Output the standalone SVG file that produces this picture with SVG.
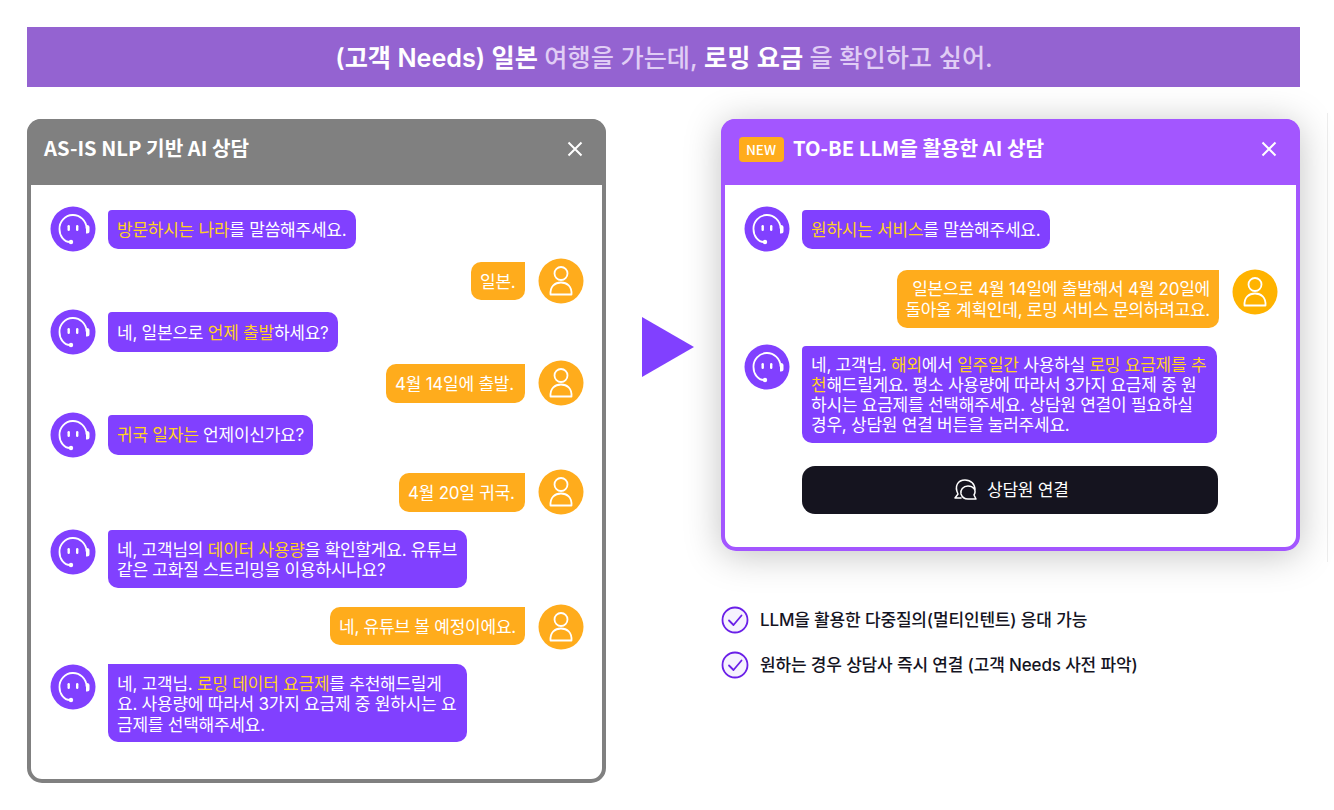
<svg xmlns="http://www.w3.org/2000/svg" width="1334" height="810" viewBox="0 0 1334 810">
<style>
text{font-family:"Inter","Noto Sans CJK KR",sans-serif;font-size:17px;fill:#fff;letter-spacing:-0.24px}
.y{fill:#FFD21F}
.bot{fill:#8140FF}
.usr{fill:#FFAC1C}
.dim{fill:#E0CDF5;font-weight:500}
.title{font-family:"Noto Sans CJK KR",sans-serif;font-size:20.200px;font-weight:700;letter-spacing:0}
.ban{font-size:25.200px;font-weight:600;letter-spacing:0}
.chk{fill:#15141F;font-size:17px;font-weight:500;letter-spacing:-0.16px}
.ic{fill:none;stroke:#fff;stroke-width:1.8;stroke-linecap:round;stroke-linejoin:round}
</style>
<defs>
<filter id="sh" x="-15%" y="-25%" width="130%" height="150%"><feDropShadow dx="0" dy="4" stdDeviation="18" flood-color="#000" flood-opacity="0.24"/></filter>
<symbol id="boticon" overflow="visible">
<circle cx="0" cy="0" r="22.500" fill="#8140FF"/>
<path class="ic" d="M-3 13C-9 13-13.500 7-13.500 0A13.500 13.500 0 0 1 13.500 -1"/>
<path d="M13-4h1a2.500 2.500 0 0 1 2.500 2.500v3.500a2.500 2.500 0 0 1-2.500 2.500h-1z" fill="#fff"/>
<circle cx="-2" cy="13" r="2.200" fill="#fff"/>
<rect x="-5.500" y="-4" width="2.400" height="6" rx="1.200" fill="#fff"/>
<rect x="3" y="-4" width="2.400" height="6" rx="1.200" fill="#fff"/>
</symbol>
<symbol id="usericon" overflow="visible">
<circle cx="0" cy="0" r="22.500" fill="currentColor"/>
<circle cx="0" cy="-7.500" r="6.500" class="ic"/>
<path class="ic" d="M-10.500 13.500C-11 5-6 1.500 0 1.500S11 5 10.500 13.500Z"/>
</symbol>
</defs>

<g id="banner">
<rect x="27" y="27" width="1273" height="60" fill="#9463D1"/>
<text x="664" y="66.500" text-anchor="middle" class="ban">(고객 Needs) 일본 <tspan class="dim">여행을 가는데,</tspan> 로밍 요금 <tspan class="dim">을 확인하고 싶어.</tspan></text>
</g>

<g id="asis-panel">
<rect x="29" y="121" width="575" height="660" rx="13" fill="#fff" stroke="#808080" stroke-width="4"/>
<path d="M27 185V133a14 14 0 0 1 14-14H592a14 14 0 0 1 14 14V185Z" fill="#808080"/>
<text x="44" y="156" class="title">AS-IS NLP 기반 AI 상담</text>
<path d="M568.500 142.500L581.500 155.500M581.500 142.500L568.500 155.500" stroke="#fff" stroke-width="2" fill="none"/>
</g>

<g id="asis-b1"><use href="#boticon" x="73" y="229"/><path class="bot" d="M108 214a4 4 0 0 1 4-4H346a10 10 0 0 1 10 10V239a10 10 0 0 1-10 10H118a10 10 0 0 1-10-10Z"/>
<text x="117" y="236"><tspan class="y">방문하시는 나라</tspan>를 말씀해주세요.</text></g>
<g id="asis-u1"><use href="#usericon" x="561" y="281" color="#FFAC1C"/><path class="usr" d="M481 262H525V290a10 10 0 0 1-10 10H481a10 10 0 0 1-10-10V272a10 10 0 0 1 10-10Z"/><text x="480" y="288">일본.</text></g>
<g id="asis-b2"><use href="#boticon" x="73" y="332"/><path class="bot" d="M108 316a4 4 0 0 1 4-4H328a10 10 0 0 1 10 10V342a10 10 0 0 1-10 10H118a10 10 0 0 1-10-10Z"/>
<text x="117" y="339">네, 일본으로 <tspan class="y">언제 출발</tspan>하세요?</text></g>
<g id="asis-u2"><use href="#usericon" x="561" y="383" color="#FFAC1C"/><path class="usr" d="M396 364H525V393a10 10 0 0 1-10 10H396a10 10 0 0 1-10-10V374a10 10 0 0 1 10-10Z"/><text x="395" y="390">4월 14일에 출발.</text></g>
<g id="asis-b3"><use href="#boticon" x="73" y="435"/><path class="bot" d="M108 419a4 4 0 0 1 4-4H303a10 10 0 0 1 10 10V445a10 10 0 0 1-10 10H118a10 10 0 0 1-10-10Z"/>
<text x="117" y="441"><tspan class="y">귀국 일자는</tspan> 언제이신가요?</text></g>
<g id="asis-u3"><use href="#usericon" x="561" y="492" color="#FFAC1C"/><path class="usr" d="M409 473H525V502a10 10 0 0 1-10 10H409a10 10 0 0 1-10-10V483a10 10 0 0 1 10-10Z"/><text x="408" y="499">4월 20일 귀국.</text></g>
<g id="asis-b4"><use href="#boticon" x="73" y="552"/><path class="bot" d="M108 534a4 4 0 0 1 4-4H457a10 10 0 0 1 10 10V578a10 10 0 0 1-10 10H118a10 10 0 0 1-10-10Z"/>
<text x="117" y="556">네, 고객님의 <tspan class="y">데이터 사용량</tspan>을 확인할게요. 유튜브</text>
<text x="117" y="576">같은 고화질 스트리밍을 이용하시나요?</text></g>
<g id="asis-u4"><use href="#usericon" x="561" y="627" color="#FFAC1C"/><path class="usr" d="M340 607H525V635a10 10 0 0 1-10 10H340a10 10 0 0 1-10-10V617a10 10 0 0 1 10-10Z"/><text x="339" y="633">네, 유튜브 볼 예정이에요.</text></g>
<g id="asis-b5"><use href="#boticon" x="73" y="687"/><path class="bot" d="M108 664H457a10 10 0 0 1 10 10V732a10 10 0 0 1-10 10H118a10 10 0 0 1-10-10Z"/>
<text x="117" y="690">네, 고객님. <tspan class="y">로밍 데이터 요금제</tspan>를 추천해드릴게</text>
<text x="117" y="710">요. 사용량에 따라서 3가지 요금제 중 원하시는 요</text>
<text x="117" y="731">금제를 선택해주세요.</text></g>

<g id="arrow"><path d="M642 317L694 347L642 377Z" fill="#8140FF"/></g>

<line x1="1327.500" y1="113" x2="1327.500" y2="562" stroke="#EDEDED"/>

<g id="tobe-panel">
<rect x="723" y="121" width="575" height="428" rx="13" fill="#fff" stroke="#A356FF" stroke-width="4" filter="url(#sh)"/>
<path d="M721 185V133a14 14 0 0 1 14-14H1286a14 14 0 0 1 14 14V185Z" fill="#A356FF"/>
<rect x="739" y="137" width="45" height="25" rx="4" fill="#FFAC1C"/>
<text x="761" y="154.500" text-anchor="middle" style="font-family:'Noto Sans CJK KR',sans-serif;font-size:13.500px;font-weight:500;letter-spacing:0">NEW</text>
<text x="793" y="156" class="title">TO-BE LLM을 활용한 AI 상담</text>
<path d="M1262.500 142.500L1275.500 155.500M1275.500 142.500L1262.500 155.500" stroke="#fff" stroke-width="2" fill="none"/>
</g>

<g id="tobe-b1"><use href="#boticon" x="767" y="229"/><path class="bot" d="M802 214a4 4 0 0 1 4-4H1040a10 10 0 0 1 10 10V239a10 10 0 0 1-10 10H812a10 10 0 0 1-10-10Z"/>
<text x="811" y="236"><tspan class="y">원하시는 서비스</tspan>를 말씀해주세요.</text></g>
<g id="tobe-u1"><use href="#usericon" x="1255" y="292" color="#FFB300"/><path class="usr" d="M907 270H1219V318a10 10 0 0 1-10 10H907a10 10 0 0 1-10-10V280a10 10 0 0 1 10-10Z"/>
<text x="1210" y="295" text-anchor="end">일본으로 4월 14일에 출발해서 4월 20일에</text>
<text x="1210" y="316" text-anchor="end">돌아올 계획인데, 로밍 서비스 문의하려고요.</text></g>
<g id="tobe-b2"><use href="#boticon" x="767" y="367"/><path class="bot" d="M802 350a4 4 0 0 1 4-4H1207a10 10 0 0 1 10 10V433a10 10 0 0 1-10 10H812a10 10 0 0 1-10-10Z"/>
<text x="811" y="371">네, 고객님. <tspan class="y">해외</tspan>에서 <tspan class="y">일주일간</tspan> 사용하실 <tspan class="y">로밍 요금제를 추</tspan></text>
<text x="811" y="391"><tspan class="y">천</tspan>해드릴게요. 평소 사용량에 따라서 3가지 요금제 중 원</text>
<text x="811" y="411">하시는 요금제를 선택해주세요. 상담원 연결이 필요하실</text>
<text x="811" y="431">경우, 상담원 연결 버튼을 눌러주세요.</text></g>
<g id="tobe-btn">
<rect x="802" y="466" width="416" height="48" rx="13" fill="#15141F"/>
<path class="ic" d="M961 498H955L958 494C954 486 958 480 965 480C971 480 975 484 975 490M968 499H976L974 495C977 490 973 486 968 486C963 486 960 490 961 494C962 497 965 499 968 499Z" style="stroke-width:1.500"/>
<text x="987" y="496">상담원 연결</text>
</g>

<g id="check1"><circle cx="735" cy="620" r="12.500" fill="#F6F2FE" stroke="#6A1FE8" stroke-width="1.800"/><path d="M729 620.500L733.500 625L741.500 615.500" fill="none" stroke="#6A1FE8" stroke-width="1.800" stroke-linecap="round" stroke-linejoin="round"/>
<text x="760" y="626" class="chk">LLM을 활용한 다중질의(멀티인텐트) 응대 가능</text></g>
<g id="check2"><circle cx="735" cy="665" r="12.500" fill="#F6F2FE" stroke="#6A1FE8" stroke-width="1.800"/><path d="M729 665.500L733.500 670L741.500 660.500" fill="none" stroke="#6A1FE8" stroke-width="1.800" stroke-linecap="round" stroke-linejoin="round"/>
<text x="760" y="671" class="chk">원하는 경우 상담사 즉시 연결 (고객 Needs 사전 파악)</text></g>
</svg>
